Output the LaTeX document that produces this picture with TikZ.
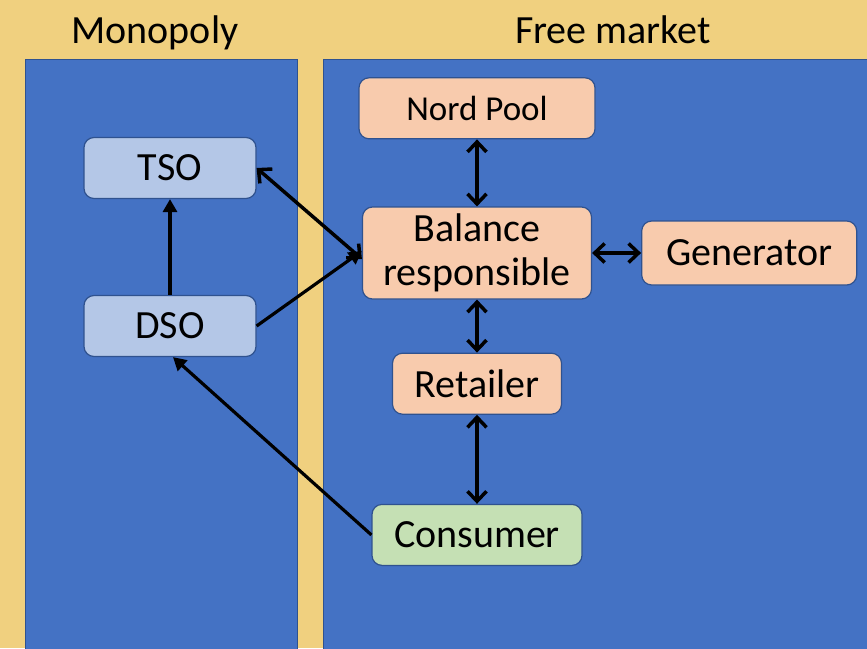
\documentclass[tikz,border=0pt]{standalone}
\usepackage{fontspec}
\setmainfont{Carlito}
\usepackage{tikz}
\usetikzlibrary{positioning,arrows.meta}
\definecolor{Sand}{RGB}{240,208,127}
\definecolor{Panel}{RGB}{68,114,196}
\definecolor{PanelEdge}{RGB}{47,82,143}
\definecolor{GridBlue}{RGB}{180,199,231}
\definecolor{MarketPeach}{RGB}{248,203,173}
\definecolor{EndGreen}{RGB}{197,224,180}

\begin{document}
\begin{tikzpicture}[
  x=1pt, y=-1pt,
  font=\fontsize{40}{44}\selectfont,
  panel/.style={draw=PanelEdge, line width=1pt, fill=Panel},
  box/.style={
    rectangle, rounded corners=10pt, draw=PanelEdge, line width=1.2pt,
    align=center, inner sep=2pt, minimum height=61pt
  },
  grid/.style={box, fill=GridBlue, minimum width=172pt},
  market/.style={box, fill=MarketPeach},
  enduser/.style={box, fill=EndGreen},
  link/.style={line width=3.5pt, >={Straight Barb[length=10pt, width=19pt]}, <->},
  feed/.style={line width=3.2pt, >={Triangle[length=13pt, width=14pt]}, ->}
]

% Background and the two areas
\fill[Sand] (0,0) rectangle (867,648);
\useasboundingbox (0,0) rectangle (867,648);
\draw[panel] (25,59) rectangle (297,650);
\draw[panel] (323,59) rectangle (869,650);
\node (monoTitle) at (155,33) {Monopoly};
\node (freeTitle) at (613,30) {Free market};

% Monopoly side
\node[grid] (tso) at (170,168) {TSO};
\node[grid] (dso) at (170,326) {DSO};

% Market side
\node[market, minimum width=229pt, minimum height=92pt] (balResp) at (477,253) {Balance\\responsible};
\node[market, minimum width=236pt, above=67pt of balResp, font=\fontsize{35}{38}\selectfont] (nordPool) {Nord Pool};
\node[market, minimum width=215pt, minimum height=64pt, right=49pt of balResp] (generator) {Generator};
\node[market, minimum width=169pt, below=53pt of balResp] (retailer) {Retailer};
\node[enduser, minimum width=210pt, below=89pt of retailer] (consumer) {Consumer};

% --- edges ---
\draw[link] (nordPool) -- (balResp);
\draw[link] (balResp) -- (generator);
\draw[link] (balResp) -- (retailer);
\draw[link] (retailer) -- (consumer);
\draw[link] (tso.east) -- ([yshift=-6pt]balResp.west);
\draw[feed] (dso.east) -- ([yshift=2pt]balResp.west);
\draw[feed] (dso) -- (tso);
\draw[feed] (consumer.west) -- ([xshift=3pt]dso.south);

\end{tikzpicture}
\end{document}
